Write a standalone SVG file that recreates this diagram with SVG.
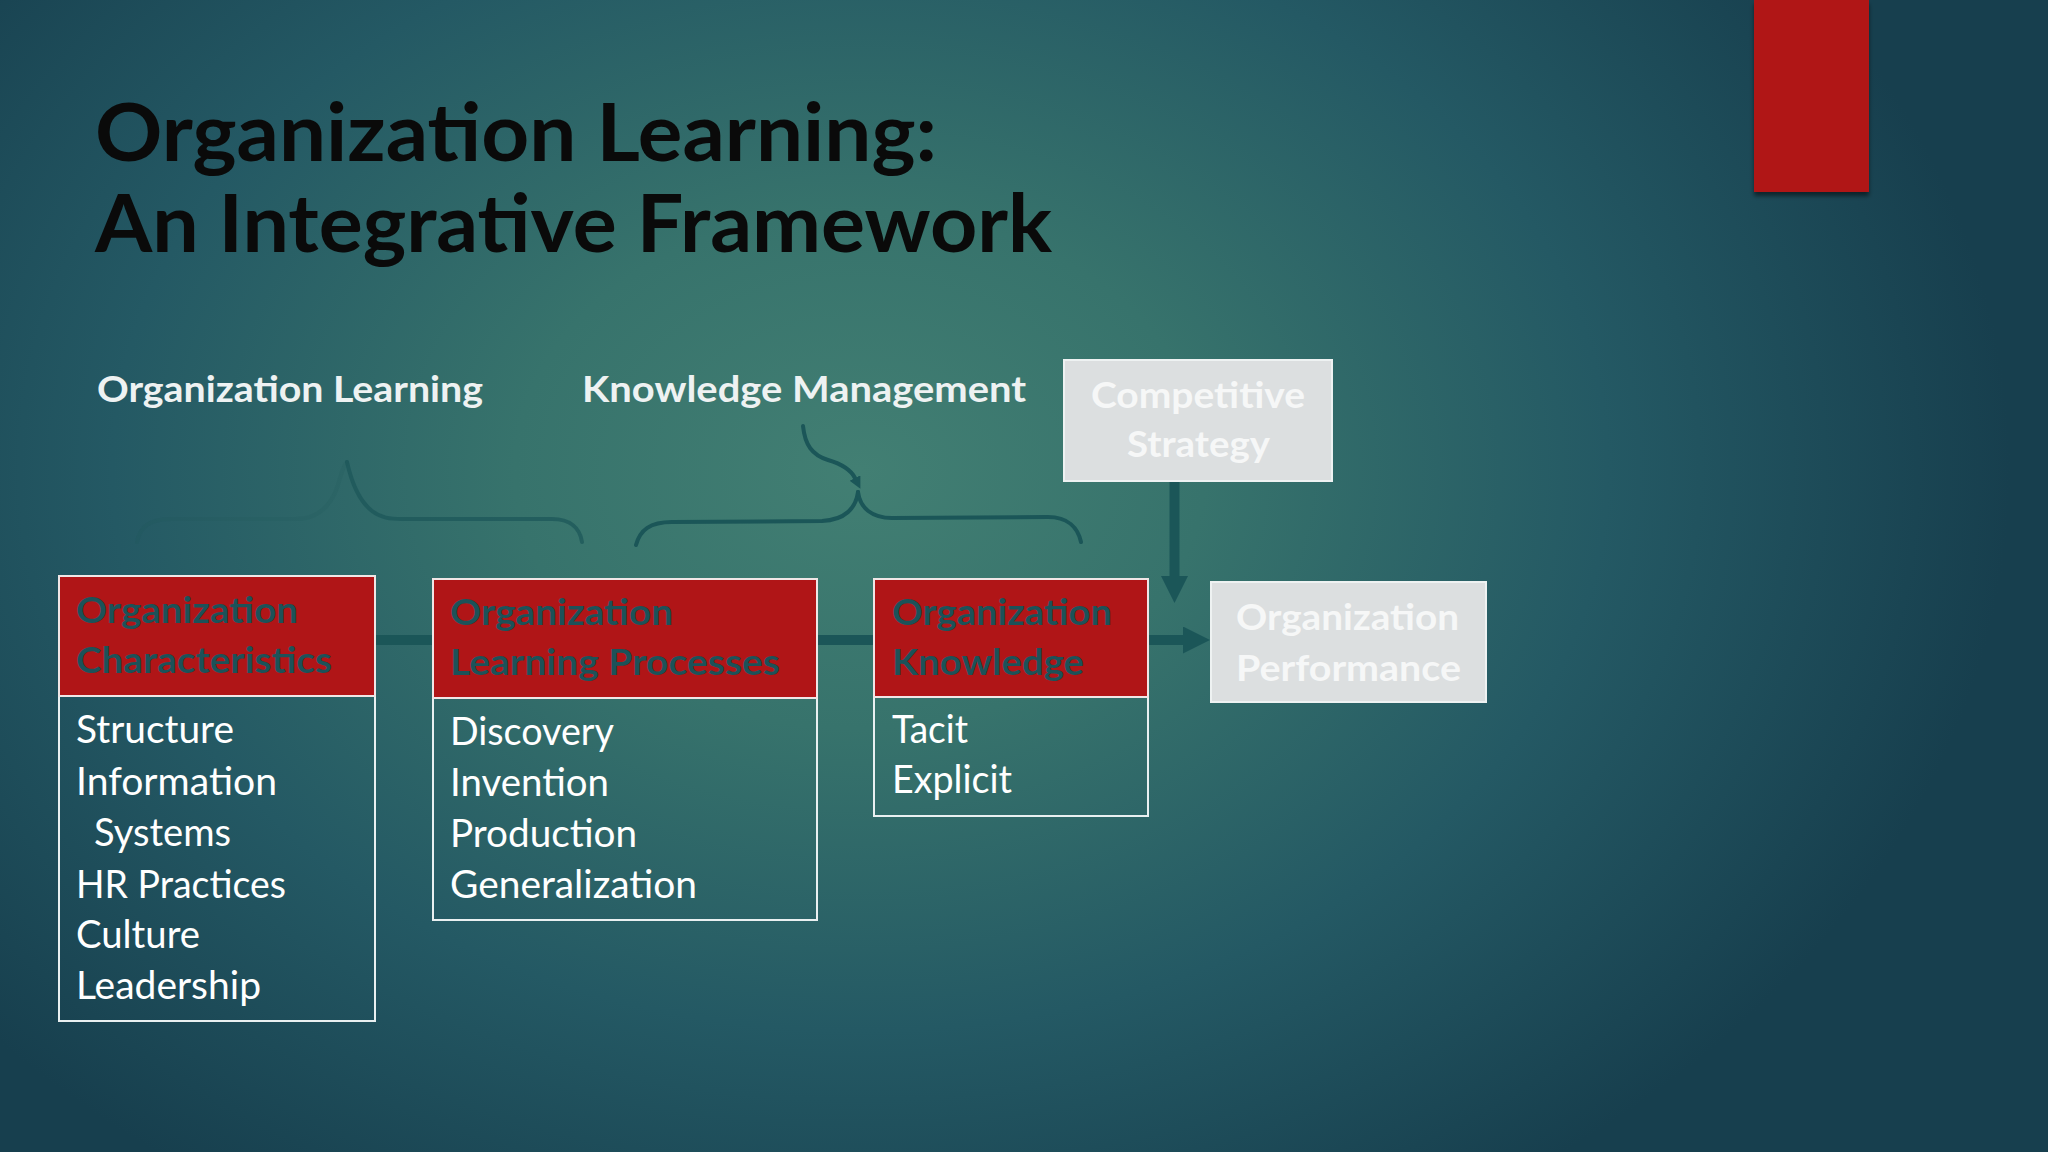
<svg xmlns="http://www.w3.org/2000/svg" width="2048" height="1152" viewBox="0 0 2048 1152">
  <defs>
    <radialGradient id="bg" gradientUnits="userSpaceOnUse" cx="860" cy="470" r="1150" gradientTransform="translate(860 470) scale(1 0.75) translate(-860 -470)">
      <stop offset="0" stop-color="#427f73"/>
      <stop offset="0.3" stop-color="#37736c"/>
      <stop offset="0.65" stop-color="#245964"/>
      <stop offset="1" stop-color="#173f4e"/>
    </radialGradient>
    <marker id="headBig" markerUnits="userSpaceOnUse" markerWidth="28" markerHeight="28" refX="0" refY="13.5" orient="auto">
      <path d="M0,0 L27,13.5 L0,27 z" fill="#1b5658"/>
    </marker>
    <marker id="headSmall" markerUnits="userSpaceOnUse" markerWidth="14" markerHeight="14" refX="0" refY="6" orient="auto">
      <path d="M0,0 L12,6 L0,12 z" fill="#1b5658"/>
    </marker>
    <filter id="shadow" x="-20%" y="-20%" width="140%" height="140%">
      <feDropShadow dx="0" dy="4" stdDeviation="2" flood-color="#000" flood-opacity="0.5"/>
    </filter>
  </defs>
  <style>
    .title { font-family: Lato, "Liberation Sans", sans-serif; font-weight: 700; font-size: 80px; fill: #0a0a0a; }
    .sub { font-family: Lato, "Liberation Sans", sans-serif; font-weight: 700; font-size: 36px; fill: #eef2f2; }
    .hdr { font-family: Lato, "Liberation Sans", sans-serif; font-weight: 700; font-size: 36px; fill: #1c5259; }
    .body { font-family: Lato, "Liberation Sans", sans-serif; font-weight: 400; font-size: 38px; fill: #ffffff; }
    .grey { font-family: Lato, "Liberation Sans", sans-serif; font-weight: 700; font-size: 36px; fill: #f6f7f7; text-anchor: middle; }
    .redbox { fill: #b01517; stroke: #f0e6e6; stroke-width: 2; }
    .outline { fill: none; stroke: #e9f0f1; stroke-width: 2; }
    .greybox { fill: #dcdfe0; stroke: #eef2f2; stroke-width: 2; }
    .conn { stroke: #1b5658; stroke-width: 10; fill: none; }
    .brace { stroke: #1b5658; stroke-width: 4; fill: none; stroke-linecap: round; }
  </style>

  <rect x="0" y="0" width="2048" height="1152" fill="url(#bg)"/>

  <g id="accent-bar">
    <rect x="1754" y="0" width="115" height="192" fill="#b01617" filter="url(#shadow)"/>
  </g>

  <g id="title">
    <text class="title" x="95" y="161" textLength="842" lengthAdjust="spacingAndGlyphs">Organization Learning:</text>
    <text class="title" x="95" y="252" textLength="957" lengthAdjust="spacingAndGlyphs">An Integrative Framework</text>
  </g>

  <g id="label-org-learning">
    <text class="sub" x="97" y="402" textLength="386" lengthAdjust="spacingAndGlyphs">Organization Learning</text>
  </g>
  <g id="label-knowledge-management">
    <text class="sub" x="582" y="402" textLength="444" lengthAdjust="spacingAndGlyphs">Knowledge Management</text>
  </g>

  <g id="connectors">
    <!-- left brace (Organization Learning) -->
    <path class="brace" stroke-opacity="0.14" d="M137,542 C140,526 150,519 172,519 L296,519 C322,519 335,500 340,478 C343,468 345,464 347,462"/>
    <path class="brace" stroke-opacity="0.7" d="M347,462 C351,480 358,500 372,511 C381,518 390,519 402,519 L552,519 C570,519 580,528 582,542"/>
    <!-- right brace (Knowledge Management) -->
    <path class="brace" d="M636,545 C640,530 650,522 672,522 L822,521 C845,520 856,508 858,492"/>
    <path class="brace" d="M858,492 C860,508 872,518 892,518 L1048,517 C1068,517 1078,528 1081,542"/>
    <!-- KM pointer -->
    <path class="brace" d="M803,426 C805,445 812,455 828,460 C845,465 852,472 855,478" marker-end="url(#headSmall)"/>
    <!-- main flow -->
    <line class="conn" x1="375" y1="640" x2="433" y2="640"/>
    <line class="conn" x1="817" y1="640" x2="874" y2="640"/>
    <line class="conn" x1="1148" y1="640" x2="1183" y2="640" marker-end="url(#headBig)"/>
    <line class="conn" x1="1174.5" y1="481" x2="1174.5" y2="576" marker-end="url(#headBig)"/>
  </g>

  <g id="node-org-characteristics">
    <rect class="outline" x="59" y="696" width="316" height="325"/>
    <rect class="redbox" x="59" y="576" width="316" height="120"/>
    <text class="hdr" x="76" y="623" textLength="222" lengthAdjust="spacingAndGlyphs">Organization</text>
    <text class="hdr" x="76" y="673" textLength="256" lengthAdjust="spacingAndGlyphs">Characteristics</text>
    <text class="body" x="76" y="743" textLength="158" lengthAdjust="spacingAndGlyphs">Structure</text>
    <text class="body" x="76" y="795" textLength="201" lengthAdjust="spacingAndGlyphs">Information</text>
    <text class="body" x="94" y="846" textLength="137" lengthAdjust="spacingAndGlyphs">Systems</text>
    <text class="body" x="76" y="898" textLength="210" lengthAdjust="spacingAndGlyphs">HR Practices</text>
    <text class="body" x="76" y="948" textLength="124" lengthAdjust="spacingAndGlyphs">Culture</text>
    <text class="body" x="76" y="999" textLength="185" lengthAdjust="spacingAndGlyphs">Leadership</text>
  </g>

  <g id="node-org-learning-processes">
    <rect class="outline" x="433" y="698" width="384" height="222"/>
    <rect class="redbox" x="433" y="579" width="384" height="119"/>
    <text class="hdr" x="450" y="625" textLength="223" lengthAdjust="spacingAndGlyphs">Organization</text>
    <text class="hdr" x="450" y="675" textLength="330" lengthAdjust="spacingAndGlyphs">Learning Processes</text>
    <text class="body" x="450" y="745" textLength="164" lengthAdjust="spacingAndGlyphs">Discovery</text>
    <text class="body" x="450" y="796" textLength="159" lengthAdjust="spacingAndGlyphs">Invention</text>
    <text class="body" x="450" y="847" textLength="187" lengthAdjust="spacingAndGlyphs">Production</text>
    <text class="body" x="450" y="898" textLength="247" lengthAdjust="spacingAndGlyphs">Generalization</text>
  </g>

  <g id="node-org-knowledge">
    <rect class="outline" x="874" y="697" width="274" height="119"/>
    <rect class="redbox" x="874" y="579" width="274" height="118"/>
    <text class="hdr" x="892" y="625" textLength="220" lengthAdjust="spacingAndGlyphs">Organization</text>
    <text class="hdr" x="892" y="675" textLength="192" lengthAdjust="spacingAndGlyphs">Knowledge</text>
    <text class="body" x="892" y="743" textLength="76" lengthAdjust="spacingAndGlyphs">Tacit</text>
    <text class="body" x="892" y="793" textLength="120" lengthAdjust="spacingAndGlyphs">Explicit</text>
  </g>

  <g id="node-competitive-strategy">
    <rect class="greybox" x="1064" y="360" width="268" height="121"/>
    <text class="grey" x="1198" y="408" textLength="214" lengthAdjust="spacingAndGlyphs">Competitive</text>
    <text class="grey" x="1198.5" y="457" textLength="143" lengthAdjust="spacingAndGlyphs">Strategy</text>
  </g>

  <g id="node-org-performance">
    <rect class="greybox" x="1211" y="582" width="275" height="120"/>
    <text class="grey" x="1347.5" y="630" textLength="223" lengthAdjust="spacingAndGlyphs">Organization</text>
    <text class="grey" x="1348.5" y="681" textLength="225" lengthAdjust="spacingAndGlyphs">Performance</text>
  </g>
</svg>
